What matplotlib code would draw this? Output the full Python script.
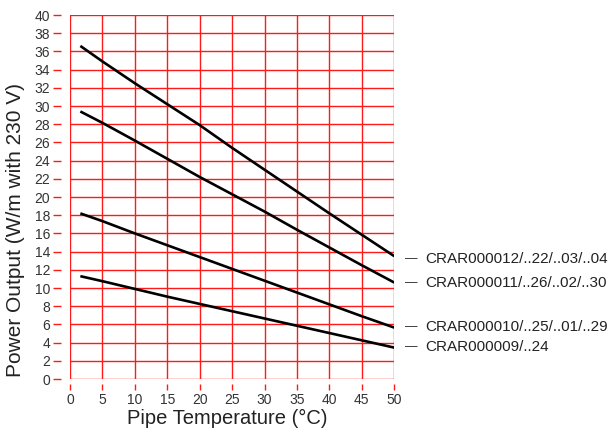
#!/usr/bin/env python3
"""
Power output vs pipe temperature for CRAR heating cables.
"""

import matplotlib
matplotlib.use("Agg")
import matplotlib.pyplot as plt

plt.rcParams['font.family'] = ['Liberation Sans', 'DejaVu Sans']

# Pipe temperature (deg C) sample points
temps = [1.6, 5, 10, 15, 20, 25, 30, 35, 40, 45, 50]

# Power output (W/m at 230 V) per cable type
crar12 = [36.6, 34.9, 32.5, 30.2, 27.9, 25.4, 23.0, 20.6, 18.2, 15.85, 13.5]
crar11 = [29.4, 28.15, 26.2, 24.2, 22.2, 20.3, 18.4, 16.4, 14.45, 12.5, 10.6]
crar10 = [18.2, 17.35, 16.0, 14.7, 13.4, 12.1, 10.8, 9.5, 8.2, 6.9, 5.65]
crar09 = [11.3, 10.75, 9.9, 9.05, 8.25, 7.45, 6.65, 5.85, 5.05, 4.25, 3.45]

series = [crar12, crar11, crar10, crar09]
labels = ["CRAR000012/..22/..03/..04",
          "CRAR000011/..26/..02/..30",
          "CRAR000010/..25/..01/..29",
          "CRAR000009/..24"]
label_y = [13.2, 10.5, 5.7, 3.5]

x_ticks = list(range(0, 51, 5))
y_ticks = list(range(0, 41, 2))

fig = plt.figure(figsize=(6.16, 4.30), dpi=100)
ax = fig.add_axes([0.1136, 0.1186, 0.5264, 0.8465])

for vals in series:
    ax.plot(temps, vals, color='black', linewidth=1.9, zorder=3,
            solid_capstyle='butt')

ax.set_xlim(0, 50)
ax.set_ylim(0, 40)
ax.set_xticks(x_ticks)
ax.set_yticks(y_ticks)
ax.grid(True, color='#ff1a1a', linewidth=1.0)
ax.set_axisbelow(True)

# Offset red tick marks, no visible spines
for side in ['top', 'right']:
    ax.spines[side].set_visible(False)
ax.spines['left'].set_position(('outward', 6.5))
ax.spines['bottom'].set_position(('outward', 3.6))
ax.spines['left'].set_color('none')
ax.spines['bottom'].set_color('none')
ax.tick_params(axis='both', colors='#ff1a1a', labelcolor='#333333',
               labelsize=10, width=1.0)
ax.tick_params(axis='y', length=5.8, pad=2)
ax.tick_params(axis='x', length=4.3, pad=2)

ax.set_xlabel('Pipe Temperature (°C)', fontsize=14.5, color='#222222')
ax.set_ylabel('Power Output (W/m with 230 V)', fontsize=15,
              color='#222222')
ax.xaxis.set_label_coords(0.485, -0.083)
ax.yaxis.set_label_coords(-0.14, 0.41)

# Labels to the right of the line ends
for name, y in zip(labels, label_y):
    ax.text(51.6, y, '—', fontsize=9, color='#222222', va='center',
            ha='left', clip_on=False)
    ax.text(54.8, y, name, fontsize=11, color='#222222', va='center',
            ha='left', clip_on=False)

fig.savefig('out.png', dpi=100)
